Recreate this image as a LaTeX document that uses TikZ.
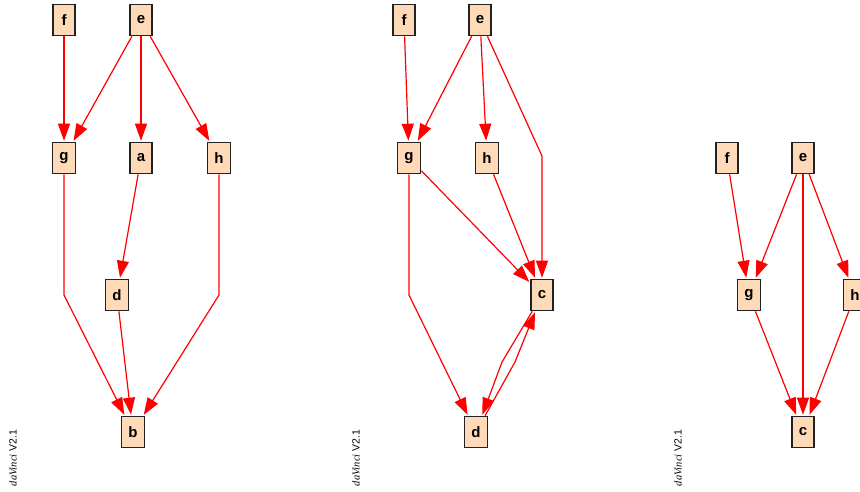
\documentclass[tikz,border=0pt]{standalone}
\usepackage{fontspec}
\setmainfont{Liberation Sans}
\newfontfamily\serifit{Liberation Serif}
\usepackage{xcolor}
\usetikzlibrary{arrows.meta}
\definecolor{peach}{RGB}{255,218,185}
\definecolor{boxline}{RGB}{34,34,34}

\begin{document}
\begin{tikzpicture}[x=1pt,y=-1pt,
    vbox/.style={draw=boxline,line width=1.6pt,fill=peach,minimum width=22pt,minimum height=31pt,inner xsep=7pt,inner ysep=0pt,font=\fontsize{15}{15}\selectfont\bfseries},
    edge/.style={red,line width=1.2pt,-{Triangle[length=17pt,width=12pt]},shorten >=1pt},
    stamp/.style={rotate=90,font=\fontsize{10.5}{10.5}\selectfont}]
    \useasboundingbox (0,0) rectangle (860,491);

    % first graph
    \node[vbox] (f1) at (64,20) {f};
    \node[vbox] (e1) at (141,20) {e};
    \node[vbox] (g1) at (64,158) {g};
    \node[vbox] (a1) at (141,158) {a};
    \node[vbox] (h1) at (219,158) {h};
    \node[vbox] (d1) at (117,295) {d};
    \node[vbox] (b1) at (133,432) {b};
    \coordinate (gb1) at (64,295);
    \coordinate (hb1) at (219,295);
    \draw[edge] (f1) -- (g1);
    \draw[edge] (e1) -- (g1);
    \draw[edge] (e1) -- (a1);
    \draw[edge] (e1) -- (h1);
    \draw[edge] (a1) -- (d1);
    \draw[edge] (g1) -- (gb1) -- (b1);
    \draw[edge] (d1) -- (b1);
    \draw[edge] (h1) -- (hb1) -- (b1);
    \node[stamp] (v1) at (13,458) {{\serifit\itshape daVinci} V2.1};

    % second graph
    \node[vbox] (f2) at (404,20) {f};
    \node[vbox] (e2) at (480,20) {e};
    \node[vbox] (g2) at (409,158) {g};
    \node[vbox] (h2) at (487,158) {h};
    \node[vbox] (c2) at (542,295) {c};
    \node[vbox] (d2) at (476,432) {d};
    \coordinate (ec2) at (542,156);
    \coordinate (gd2) at (409,295);
    \coordinate (cd2) at (502,362);
    \coordinate (dc2) at (515,362);
    \draw[edge] (f2) -- (g2);
    \draw[edge] (e2) -- (g2);
    \draw[edge] (e2) -- (h2);
    \draw[edge] (e2) -- (ec2) -- (c2);
    \draw[edge] (g2) -- (c2);
    \draw[edge] (h2) -- (c2);
    \draw[edge] (g2) -- (gd2) -- (d2);
    \draw[edge] (c2) -- (cd2) -- (d2);
    \draw[edge] (d2) -- (dc2) -- (c2);
    \node[stamp] (v2) at (356,458) {{\serifit\itshape daVinci} V2.1};

    % third graph
    \node[vbox] (f3) at (727,158) {f};
    \node[vbox] (e3) at (803,158) {e};
    \node[vbox] (g3) at (749,295) {g};
    \node[vbox] (h3) at (855,295) {h};
    \node[vbox] (c3) at (803,432) {c};
    \draw[edge] (f3) -- (g3);
    \draw[edge] (e3) -- (g3);
    \draw[edge] (e3) -- (c3);
    \draw[edge] (e3) -- (h3);
    \draw[edge] (g3) -- (c3);
    \draw[edge] (h3) -- (c3);
    \node[stamp] (v3) at (678,458) {{\serifit\itshape daVinci} V2.1};
\end{tikzpicture}
\end{document}
